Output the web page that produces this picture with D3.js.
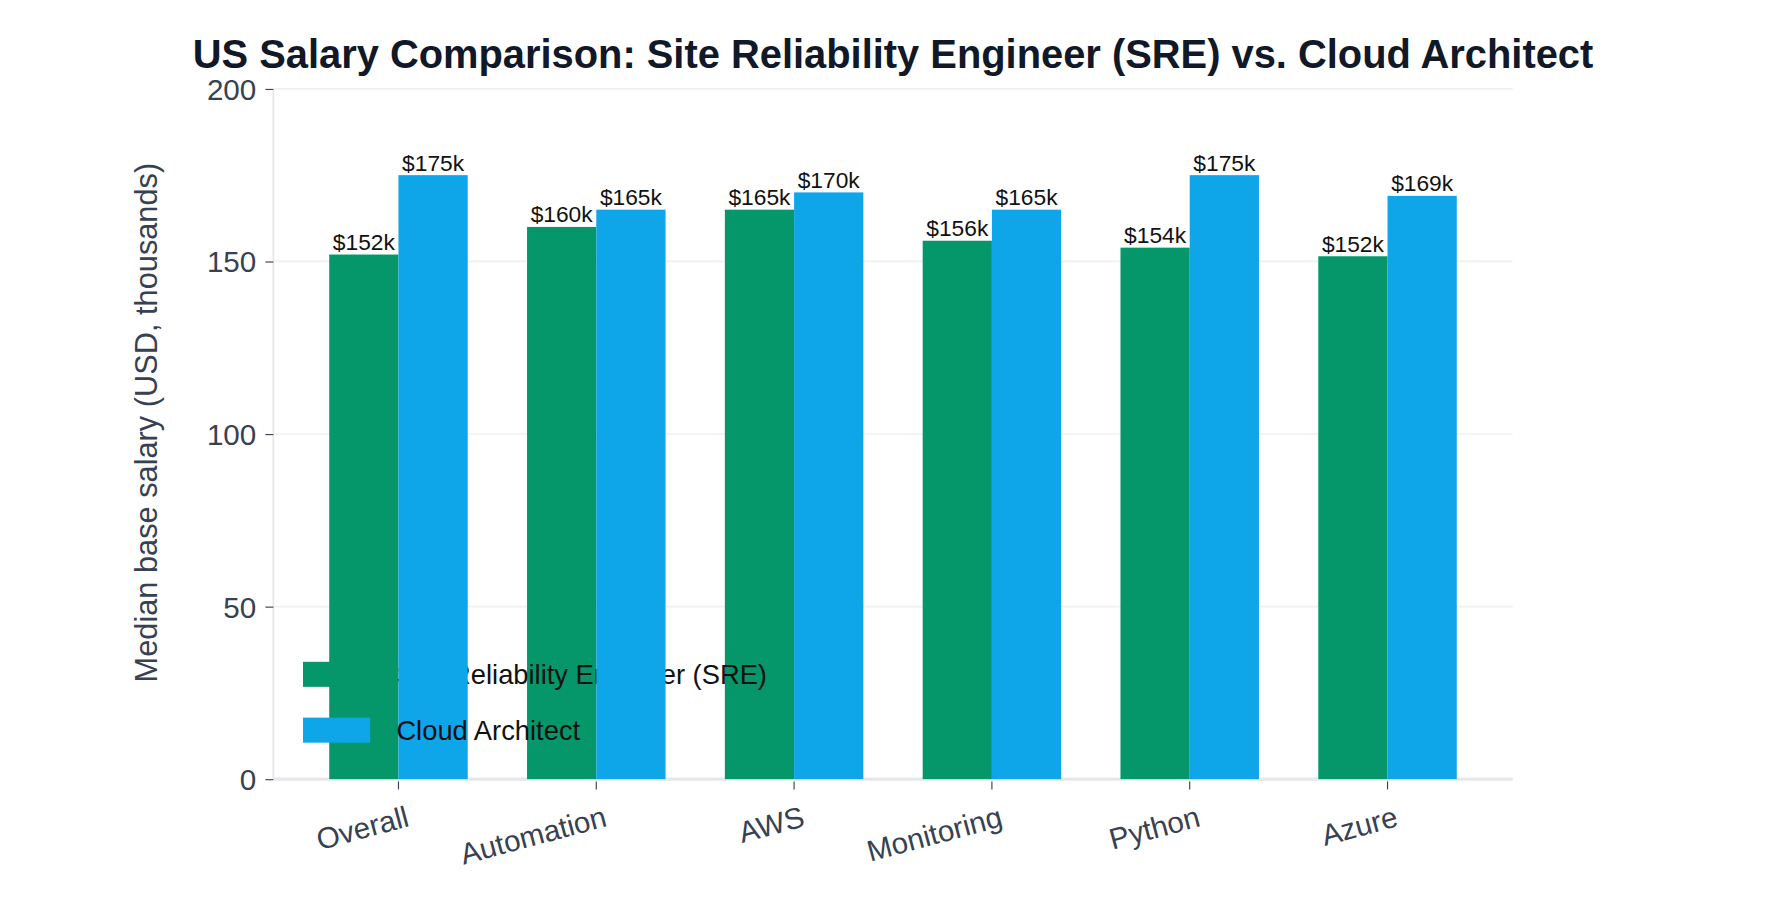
<!DOCTYPE html><html><head><script src="https://cdn.jsdelivr.net/npm/d3@7"></script>
<style>body{margin:0;background:#fff}text{font-family:"Liberation Sans",Arial,sans-serif}</style></head><body>
<svg id="c" width="1786" height="913" viewBox="0 0 1568 801.5"></svg>
<script>
const categories=["Overall","Automation","AWS","Monitoring","Python","Azure"];
const sre=[152,160,165,156,154,151.5];
const cloud=[175,165,170,165,175,169];
const sreLabels=["$152k","$160k","$165k","$156k","$154k","$152k"];
const cloudLabels=["$175k","$165k","$170k","$165k","$175k","$169k"];
const yTicks=[0,50,100,150,200];
const series=[{name:"Site Reliability Engineer (SRE)",vals:sre,labels:sreLabels,color:"#059669"},
{name:"Cloud Architect",vals:cloud,labels:cloudLabels,color:"#0ea5e9"}];
const svg=d3.select("#c");
const L=240,R=1328,T=78,B=684;
const x=d3.scaleBand().domain(categories).range([263,1305]).paddingInner(0.3).paddingOuter(0.15);
const x1=d3.scaleBand().domain([0,1]).range([0,x.bandwidth()]);
const y=d3.scaleLinear().domain([0,200]).range([B,T]);
svg.append("g").selectAll("line").data(yTicks).join("line").attr("x1",L).attr("x2",R).attr("y1",d=>y(d)).attr("y2",d=>y(d)).attr("stroke","#eef0f2").attr("stroke-width",1.5);
svg.append("line").attr("x1",L).attr("x2",L).attr("y1",T).attr("y2",B).attr("stroke","#e5e7eb").attr("stroke-width",1.5);
svg.append("line").attr("x1",L).attr("x2",R).attr("y1",B).attr("y2",B).attr("stroke","#e5e7eb").attr("stroke-width",3);
const ya=svg.append("g").attr("transform",`translate(${L},0)`).call(d3.axisLeft(y).tickValues(yTicks).tickSize(7).tickPadding(8));
ya.select(".domain").remove();
ya.selectAll("text").attr("font-size",26).attr("fill","#374151").attr("dy","0.35em");
ya.selectAll("line").attr("stroke","#374151");
const xa=svg.append("g").attr("transform",`translate(0,${B+2})`).call(d3.axisBottom(x).tickSize(7).tickPadding(10));
xa.select(".domain").remove();
xa.selectAll("line").attr("stroke","#374151");
xa.selectAll("text").attr("font-size",26).attr("fill","#374151").attr("text-anchor","end").attr("dy","0.9em").attr("transform","rotate(-15)");
series.forEach((s,i)=>{
 const g=svg.append("g");
 g.selectAll("rect").data(categories).join("rect").attr("x",c=>x(c)+x1(i)).attr("width",x1.bandwidth()).attr("y",(c,j)=>y(s.vals[j])).attr("height",(c,j)=>B-y(s.vals[j])).attr("fill",s.color);
 g.selectAll("text").data(categories).join("text").attr("x",c=>x(c)+x1(i)+x1.bandwidth()/2).attr("y",(c,j)=>y(s.vals[j])-4).attr("text-anchor","middle").attr("font-size",20).attr("fill","#111").text((c,j)=>s.labels[j]);
 svg.append("rect").attr("x",266).attr("y",581+i*49).attr("width",59).attr("height",22).attr("fill",s.color);
 svg.append("text").attr("x",348).attr("y",592+i*49).attr("dy","0.35em").attr("font-size",24).attr("fill","#111").text(s.name);
});
svg.append("text").attr("x",784).attr("y",47).attr("dy","0.35em").attr("text-anchor","middle").attr("font-size",35).attr("font-weight","bold").attr("fill","#111827").text("US Salary Comparison: Site Reliability Engineer (SRE) vs. Cloud Architect");
svg.append("text").attr("transform",`translate(138,${(T+B)/2-10}) rotate(-90)`).attr("text-anchor","middle").attr("font-size",27).attr("fill","#374151").text("Median base salary (USD, thousands)");
</script></body></html>
